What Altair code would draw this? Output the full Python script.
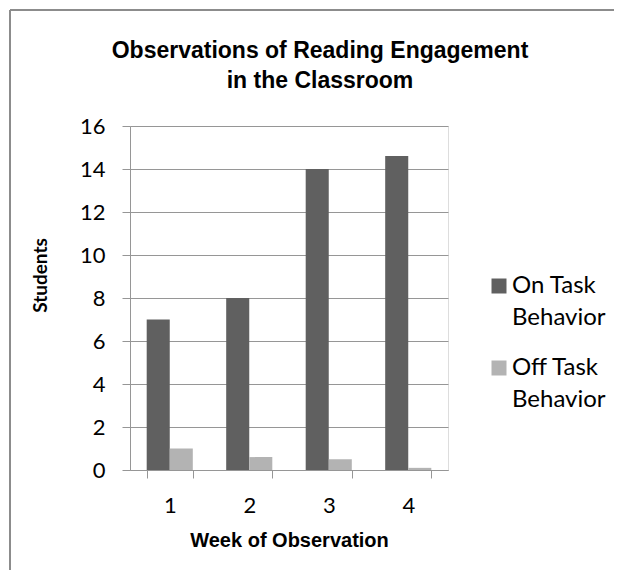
import altair as alt
import pandas as pd

weeks = ["1", "2", "3", "4"]
series = ["On Task Behavior", "Off Task Behavior"]
on_task = [7, 8, 14, 14.6]
off_task = [1, 0.6, 0.5, 0.1]
y_ticks = [0, 2, 4, 6, 8, 10, 12, 14, 16]

rows = []
for w, a, b in zip(weeks, on_task, off_task):
    rows.append({"week": w, "series": series[0], "students": a})
    rows.append({"week": w, "series": series[1], "students": b})
df = pd.DataFrame(rows)

BODY = "Lato"
HEAD = "Liberation Sans"
GRID = "#969696"

bars = alt.Chart(df).mark_bar().encode(
    x=alt.X("week:N", sort=weeks,
            scale=alt.Scale(paddingInner=0.42, paddingOuter=0.21),
            axis=alt.Axis(title="Week of Observation", labelAngle=0, tickBand="extent",
                          grid=False, tickSize=8, labelPadding=17, titlePadding=14,
                          labelFont=BODY, labelFontSize=22, labelColor="#000",
                          titleFont=HEAD, titleFontSize=20, titleFontWeight="bold",
                          titleColor="#000", domainColor=GRID, tickColor=GRID)),
    xOffset=alt.XOffset("series:N", sort=series, scale=alt.Scale(paddingInner=0)),
    y=alt.Y("students:Q", scale=alt.Scale(domain=[0, 16]),
            axis=alt.Axis(title="Students", values=y_ticks, grid=True, gridColor=GRID,
                          tickSize=8, labelPadding=17, domainColor=GRID, tickColor=GRID,
                          labelFont=BODY, labelFontSize=22, labelColor="#000",
                          titleFont=BODY, titleFontSize=19, titleFontWeight="bold",
                          titleColor="#000", titleX=-90, titleY=149, titleAngle=270,
                          titleBaseline="middle")),
    color=alt.Color("series:N", sort=series,
                    scale=alt.Scale(domain=series, range=["#606060", "#b3b3b3"]),
                    legend=alt.Legend(title=None, orient="none", legendX=357, legendY=148,
                                      symbolType="square", symbolSize=225,
                                      symbolStrokeWidth=0, labelFont=BODY,
                                      labelFontSize=24, labelColor="#000",
                                      labelLimit=200, rowPadding=26, labelOffset=1,
                                      labelBaseline="middle",
                                      labelExpr="[replace(datum.label, ' Behavior', ''), 'Behavior']")),
)

border = alt.Chart(pd.DataFrame({"k": [0]})).mark_rule(color="#8c8c8c", strokeWidth=2).encode(
    x=alt.value(-120), x2=alt.value(484), y=alt.value(-116)
)
border_left = alt.Chart(pd.DataFrame({"k": [0]})).mark_rule(color="#8c8c8c", strokeWidth=2).encode(
    x=alt.value(-120), y=alt.value(-116), y2=alt.value(480)
)

chart = alt.layer(border, border_left, bars).properties(
    width=318, height=344,
    title=alt.Title(["Observations of Reading Engagement", "in the Classroom"],
                    font=HEAD, fontSize=23, fontWeight="bold", color="#000",
                    anchor="middle", lineHeight=30, offset=0, dy=84, dx=31),
    padding={"left": 122, "top": 118, "right": 166, "bottom": 100},
    autosize="none",
).configure_view(stroke=None).configure(
    background="white",
    style={"guide-label": {"lineHeight": 32}},
)

chart.save("out.html", embed_options={"renderer": "svg", "actions": False})
